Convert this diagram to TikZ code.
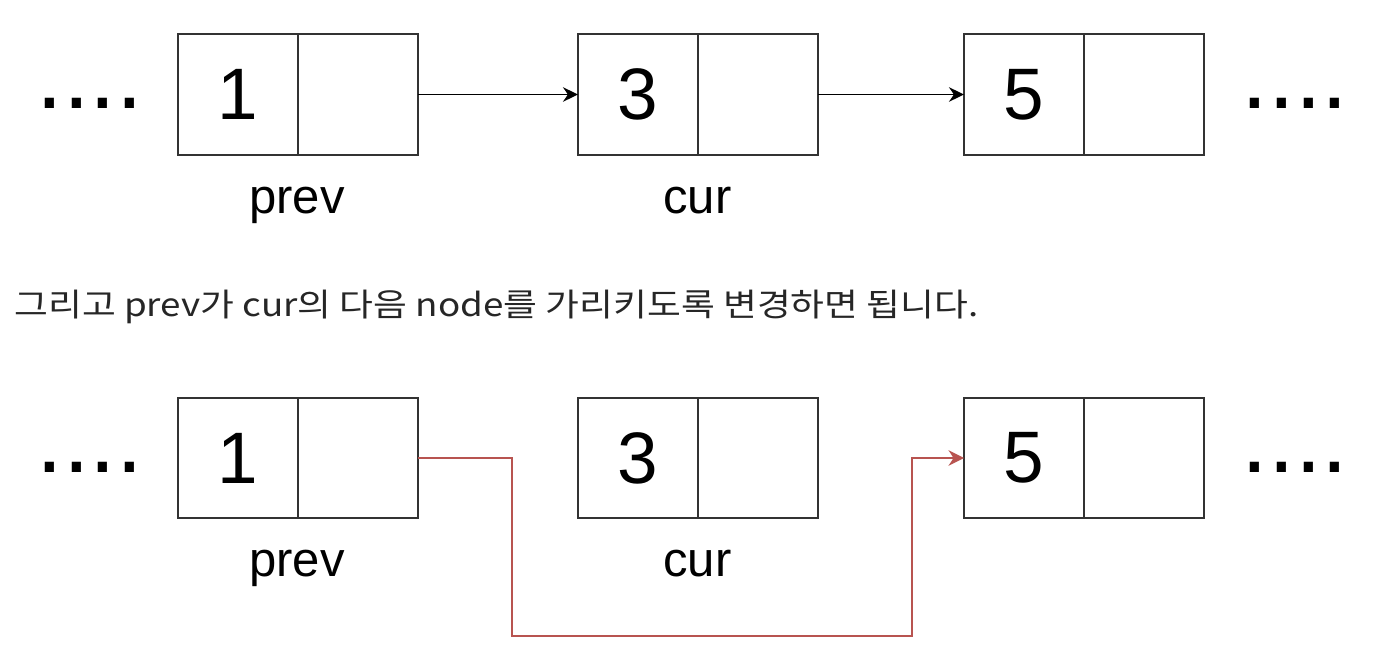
\documentclass[tikz,border=0pt]{standalone}
\usepackage{fontspec}
\setmainfont{Liberation Sans}
\newfontfamily\kofont[FakeStretch=1.15]{Noto Sans CJK KR}
\usetikzlibrary{positioning}
\usetikzlibrary{arrows.meta}
\definecolor{boxgray}{RGB}{51,51,51}
\definecolor{linkred}{RGB}{184,84,80}
\tikzset{
cell/.style={draw=boxgray,line width=1.1pt,outer sep=0pt,inner sep=0pt,minimum width=2.4cm,minimum height=2.41cm,font=\fontsize{41.5}{41.5}\selectfont},
lbl/.style={anchor=base,inner sep=0pt,font=\fontsize{27.9}{27.9}\selectfont},
more/.style={anchor=base west,inner sep=0pt,font=\fontsize{54.6}{54.6}\selectfont},
nextlink/.style={draw=black,line width=1pt,-{Stealth[length=0.3cm,width=0.29cm]}},
newlink/.style={draw=linkred,line width=1pt,-{Stealth[length=0.31cm,width=0.31cm]}}
}
\begin{document}
\begin{tikzpicture}[x=0.02cm,y=-0.02cm]
\useasboundingbox (0,0) rectangle (1376,660);

\node[more] (tdotsL) at (36.3,108) {....};
\node[cell] (t1v) at (238,94.5) {1};
\node[cell,right=0pt of t1v] (t1n) {};
\node[cell] (t2v) at (638,94.5) {3};
\node[cell,right=0pt of t2v] (t2n) {};
\node[cell] (t3v) at (1024,94.5) {5};
\node[cell,right=0pt of t3v] (t3n) {};
\node[more] (tdotsR) at (1241.3,108) {....};
\node[lbl] (tprev) at (297,213) {prev};
\node[lbl] (tcur) at (697.5,213) {cur};
\draw[nextlink] (t1n.east) -- (t2v.west);
\draw[nextlink] (t2n.east) -- (t3v.west);

\node[anchor=base west,inner sep=0pt,text=black!85,font=\kofont\fontsize{18.2}{18.2}\selectfont] (note) at (14,316) {그리고 prev가 cur의 다음 node를 가리키도록 변경하면 됩니다.};

\node[more] (bdotsL) at (36.3,472) {....};
\node[cell] (b1v) at (238,458) {1};
\node[cell,right=0pt of b1v] (b1n) {};
\node[cell] (b2v) at (638,458) {3};
\node[cell,right=0pt of b2v] (b2n) {};
\node[cell] (b3v) at (1024,458) {5};
\node[cell,right=0pt of b3v] (b3n) {};
\node[more] (bdotsR) at (1241.3,472) {....};
\node[lbl] (bprev) at (297,576) {prev};
\node[lbl] (bcur) at (697.5,576) {cur};
\coordinate (dipL) at (512,636);
\coordinate (dipR) at (912,458);
\draw[newlink] (b1n.east) -| (dipL) -| (dipR) -- (b3v.west);

\end{tikzpicture}
\end{document}
